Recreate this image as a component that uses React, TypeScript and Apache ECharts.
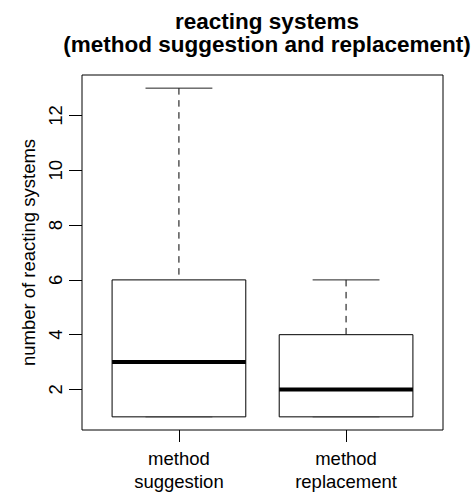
import React, { useEffect, useRef } from "react";
import * as echarts from "echarts";

// Group labels along the x axis (one box per group)
const categories = ["method\nsuggestion", "method\nreplacement"];
// Five-number summaries per group
const lowerWhisker = [1, 1];
const firstQuartile = [1, 1];
const medians = [3, 2];
const thirdQuartile = [6, 4];
const upperWhisker = [13, 6];
// Y tick labels
const yTicks = [2, 4, 6, 8, 10, 12];

const FONT = "'Liberation Sans', Arial, Helvetica, sans-serif";
const BOX_HALF = 0.4;
const CAP_HALF = 0.2;
const WHISKER_DASH = [6.5, 5.5];

export default function App() {
  const ref = useRef<HTMLDivElement>(null);

  useEffect(() => {
    if (!ref.current) return;
    const chart = echarts.init(ref.current, undefined, { renderer: "svg" });

    const data = categories.map((_, i) => [
      i + 1,
      lowerWhisker[i],
      firstQuartile[i],
      medians[i],
      thirdQuartile[i],
      upperWhisker[i],
    ]);

    const renderItem = (_params: any, api: any) => {
      const x = api.value(0) as number;
      const lo = api.value(1) as number;
      const q1 = api.value(2) as number;
      const md = api.value(3) as number;
      const q3 = api.value(4) as number;
      const hi = api.value(5) as number;
      const c = (xx: number, yy: number) => api.coord([xx, yy]);

      const boxTL = c(x - BOX_HALF, q3);
      const boxBR = c(x + BOX_HALF, q1);
      const medL = c(x - BOX_HALF, md);
      const medR = c(x + BOX_HALF, md);
      const hiC = c(x, hi);
      const q3C = c(x, q3);
      const loC = c(x, lo);
      const q1C = c(x, q1);
      const capHiL = c(x - CAP_HALF, hi);
      const capHiR = c(x + CAP_HALF, hi);
      const capLoL = c(x - CAP_HALF, lo);
      const capLoR = c(x + CAP_HALF, lo);

      const line = (a: number[], b: number[], extra: any = {}) => ({
        type: "line",
        shape: { x1: a[0], y1: a[1], x2: b[0], y2: b[1] },
        style: { stroke: "#000", lineWidth: 1, ...extra },
      });

      return {
        type: "group",
        children: [
          // whiskers run from their ends toward the box
          line(hiC, q3C, { lineDash: WHISKER_DASH }),
          line(loC, q1C, { lineDash: WHISKER_DASH }),
          line(capHiL, capHiR, { stroke: "#222" }),
          {
            type: "rect",
            shape: {
              x: boxTL[0],
              y: boxTL[1],
              width: boxBR[0] - boxTL[0],
              height: boxBR[1] - boxTL[1],
            },
            style: { fill: "none", stroke: "#000", lineWidth: 1 },
          },
          line(capLoL, capLoR, { stroke: "#444" }),
          line(medL, medR, { lineWidth: 4 }),
        ],
      };
    };

    chart.setOption({
      animation: false,
      backgroundColor: "#fff",
      textStyle: { fontFamily: FONT },
      title: {
        text: "reacting systems\n(method suggestion and replacement)",
        left: 262,
        top: 5,
        textAlign: "center",
        textStyle: {
          fontFamily: FONT,
          fontSize: 22.5,
          fontWeight: "bold",
          lineHeight: 23,
          color: "#000",
        },
      },
      grid: {
        left: 82,
        right: 31,
        top: 75,
        bottom: 64,
        show: true,
        borderColor: "#000",
        borderWidth: 1,
        backgroundColor: "transparent",
      },
      xAxis: {
        type: "value",
        min: 0.42,
        max: 2.58,
        axisLine: { show: false },
        splitLine: { show: false },
        axisTick: {
          show: true,
          length: 12,
          customValues: [1, 2],
          lineStyle: { color: "#000" },
        },
        axisLabel: {
          customValues: [1, 2],
          formatter: (v: number) => categories[Math.round(v) - 1] ?? "",
          fontFamily: FONT,
          fontSize: 18.5,
          lineHeight: 23,
          color: "#000",
          margin: 17,
        },
      },
      yAxis: {
        type: "value",
        min: 0.52,
        max: 13.48,
        name: "number of reacting systems",
        nameLocation: "middle",
        nameRotate: 90,
        nameGap: 37,
        nameTextStyle: { fontFamily: FONT, fontSize: 18.5, color: "#000" },
        axisLine: { show: false },
        splitLine: { show: false },
        axisTick: {
          show: true,
          length: 13,
          customValues: yTicks,
          lineStyle: { color: "#000" },
        },
        axisLabel: {
          customValues: yTicks,
          rotate: 90,
          fontFamily: FONT,
          fontSize: 18.5,
          color: "#000",
          margin: 17,
        },
      },
      series: [
        {
          type: "custom",
          renderItem,
          data,
          encode: { x: 0, y: [1, 2, 3, 4, 5] },
          clip: false,
        },
      ],
    });

    return () => chart.dispose();
  }, []);

  return (
    <div
      ref={ref}
      style={{ position: "absolute", left: 0, top: 0, width: 474, height: 494 }}
    />
  );
}
